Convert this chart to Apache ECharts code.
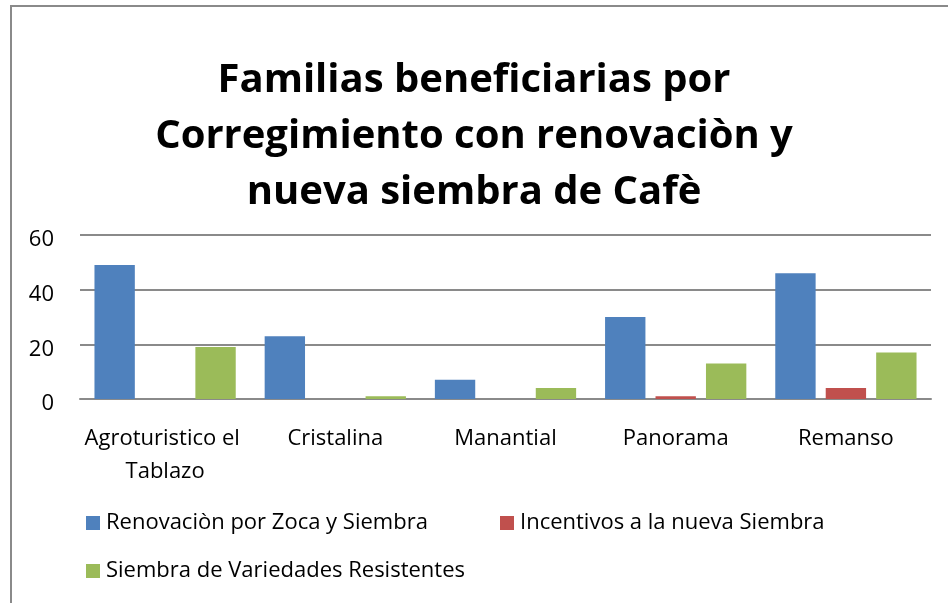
<!DOCTYPE html>
<html>
<head>
<meta charset="utf-8">
<script src="https://cdn.jsdelivr.net/npm/echarts@6/dist/echarts.min.js"></script>
<style>
html, body { margin: 0; padding: 0; background: #fff; }
#chart { width: 948px; height: 603px; }
</style>
</head>
<body>
<div id="chart"></div>
<script>
// datos del grafico
var corregimientos = ['Agroturistico el Tablazo', 'Cristalina', 'Manantial', 'Panorama', 'Remanso'];
var renovacion = [49, 23, 7, 30, 46];
var incentivos = [0, 0, 0, 1, 4];
var variedades = [19, 1, 4, 13, 17];
var yTicks = [0, 20, 40, 60];

var nombres = ['Renovaciòn por Zoca y Siembra', 'Incentivos a la nueva Siembra', 'Siembra de Variedades Resistentes'];
var fuente = 'Open Sans';

var chart = echarts.init(document.getElementById('chart'));

// una leyenda por serie, para colocarlas como en el original
var leyenda = function(nombre, x, y) {
    return {
        data: [nombre],
        left: x,
        top: y,
        itemWidth: 14,
        itemHeight: 14,
        itemGap: 0,
        icon: 'rect',
        textStyle: { fontFamily: fuente, fontSize: 22, lineHeight: 22, color: '#000', padding: [0, 0, 0, 1] }
    };
};

chart.setOption({
    animation: false,
    textStyle: { fontFamily: fuente },
    title: {
        text: 'Familias beneficiarias por\nCorregimiento con renovaciòn y\nnueva siembra de Cafè',
        left: 'center',
        top: 48,
        textStyle: {
            fontFamily: fuente,
            fontSize: 40,
            fontWeight: 'bold',
            color: '#000',
            lineHeight: 56
        }
    },
    graphic: [{
        type: 'rect',
        shape: { x: 11, y: 6, width: 960, height: 620 },
        style: { fill: 'none', stroke: '#8a8a8a', lineWidth: 2 },
        silent: true
    }],
    legend: [
        leyenda(nombres[0], 81, 507),
        leyenda(nombres[1], 495, 507),
        leyenda(nombres[2], 81, 555)
    ],
    grid: {
        left: 80,
        right: 17,
        top: 235,
        bottom: 204
    },
    xAxis: {
        type: 'category',
        data: corregimientos,
        axisLine: { lineStyle: { color: '#8a8a8a', width: 2 } },
        axisTick: { show: false },
        axisLabel: {
            interval: 0,
            margin: 23,
            fontSize: 22,
            color: '#000',
            lineHeight: 33,
            width: 190,
            overflow: 'break',
            align: 'center'
        }
    },
    yAxis: {
        type: 'value',
        min: yTicks[0],
        max: yTicks[yTicks.length - 1],
        interval: 20,
        axisLine: { show: false },
        axisTick: { show: false },
        axisLabel: { fontSize: 22, color: '#000', margin: 26, verticalAlign: 'top', lineHeight: 10 },
        splitLine: { lineStyle: { color: '#8a8a8a', width: 2 } }
    },
    series: [{
        name: nombres[0],
        type: 'bar',
        data: renovacion,
        itemStyle: { color: '#4F81BD' },
        barGap: '25%',
        barCategoryGap: '17%'
    }, {
        name: nombres[1],
        type: 'bar',
        data: incentivos,
        itemStyle: { color: '#C0504D' }
    }, {
        name: nombres[2],
        type: 'bar',
        data: variedades,
        itemStyle: { color: '#9BBB59' }
    }]
});
</script>
</body>
</html>
